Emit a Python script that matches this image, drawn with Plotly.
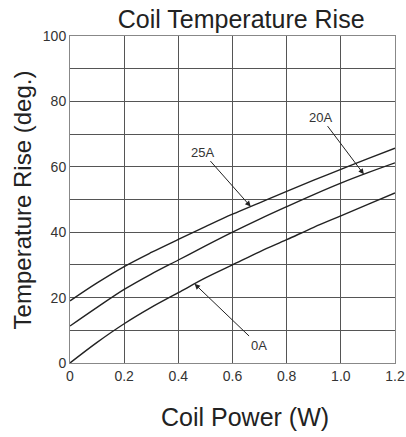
import numpy as np
import plotly.graph_objects as go

# ---- data ----
power = [0.0, 0.1, 0.2, 0.3, 0.4, 0.5, 0.6, 0.7, 0.8, 0.9, 1.0, 1.1, 1.2]
rise_0A = [0.0, 6.3, 12.0, 17.0, 21.5, 26.0, 30.0, 34.0, 37.7, 41.5, 45.0, 48.5, 52.0]
rise_20A = [11.3, 17.0, 22.5, 27.2, 31.5, 35.8, 40.0, 44.0, 47.8, 51.5, 55.0, 58.2, 61.2]
rise_25A = [19.0, 24.5, 29.5, 33.8, 37.8, 41.7, 45.5, 49.0, 52.5, 55.9, 59.2, 62.5, 65.7]

series = [("0A", rise_0A), ("20A", rise_20A), ("25A", rise_25A)]
# label placement (layout) and arrow target x for each series
label_cfg = {
    "0A": dict(tx=0.46, lx=0.696, ly=5.5),
    "20A": dict(tx=1.085, lx=0.926, ly=75.2),
    "25A": dict(tx=0.667, lx=0.489, ly=64.5),
}

x_ticks = [0, 0.2, 0.4, 0.6, 0.8, 1.0, 1.2]
x_tick_text = ["0", "0.2", "0.4", "0.6", "0.8", "1.0", "1.2"]
y_ticks = [0, 20, 40, 60, 80, 100]

FONT = "Liberation Sans, Arial, sans-serif"
LINE = "#222222"
GRID = "#555555"

fig = go.Figure()
for name, vals in series:
    fig.add_trace(go.Scatter(x=power, y=vals, mode="lines", name=name,
                             line=dict(color=LINE, width=1.4, shape="spline"),
                             showlegend=False, hoverinfo="skip"))

for name, vals in series:
    c = label_cfg[name]
    hy = float(np.interp(c["tx"], power, vals))
    fig.add_annotation(x=c["tx"], y=hy, ax=c["lx"], ay=c["ly"],
                       xref="x", yref="y", axref="x", ayref="y",
                       text=name, showarrow=True, arrowhead=2, arrowsize=1.1,
                       arrowwidth=1, arrowcolor=LINE,
                       font=dict(family=FONT, size=13, color="#333333"))

# axis titles
fig.add_annotation(text="Coil Power (W)", xref="paper", yref="paper",
                   x=0.537, y=-0.165, xanchor="center", yanchor="middle",
                   showarrow=False, font=dict(family=FONT, size=25, color="#222222"))
fig.add_annotation(text="Temperature Rise (deg.)", xref="paper", yref="paper",
                   x=-0.145, y=0.5, xanchor="center", yanchor="middle", textangle=-90,
                   showarrow=False, font=dict(family=FONT, size=24, color="#222222"))

fig.update_layout(
    width=406, height=437, autosize=False,
    margin=dict(l=70, r=11, t=36, b=74),
    paper_bgcolor="white", plot_bgcolor="white",
    title=dict(text="Coil Temperature Rise", x=0.594, xanchor="center",
               y=0.955, yanchor="middle",
               font=dict(family=FONT, size=25, color="#222222")),
    font=dict(family=FONT),
)
fig.update_xaxes(range=[0, 1.2], tickvals=x_ticks, ticktext=x_tick_text,
                 showgrid=True, gridcolor=GRID, gridwidth=1,
                 showline=True, linecolor="#888888", linewidth=1, mirror=True,
                 ticks="", zeroline=False, automargin=False,
                 tickfont=dict(family=FONT, size=14, color="#333333"))
fig.update_yaxes(range=[0, 100], tickvals=y_ticks, dtick=10,
                 showgrid=True, gridcolor=GRID, gridwidth=1,
                 minor=dict(dtick=10, showgrid=True, gridcolor=GRID, gridwidth=1),
                 showline=True, linecolor="#888888", linewidth=1, mirror=True,
                 ticks="", zeroline=False, automargin=False,
                 tickfont=dict(family=FONT, size=14, color="#333333"))

fig.write_html("out.html",
               config={"responsive": False, "displayModeBar": False},
               post_script="document.body.style.margin='0';document.body.style.overflow='hidden';")
